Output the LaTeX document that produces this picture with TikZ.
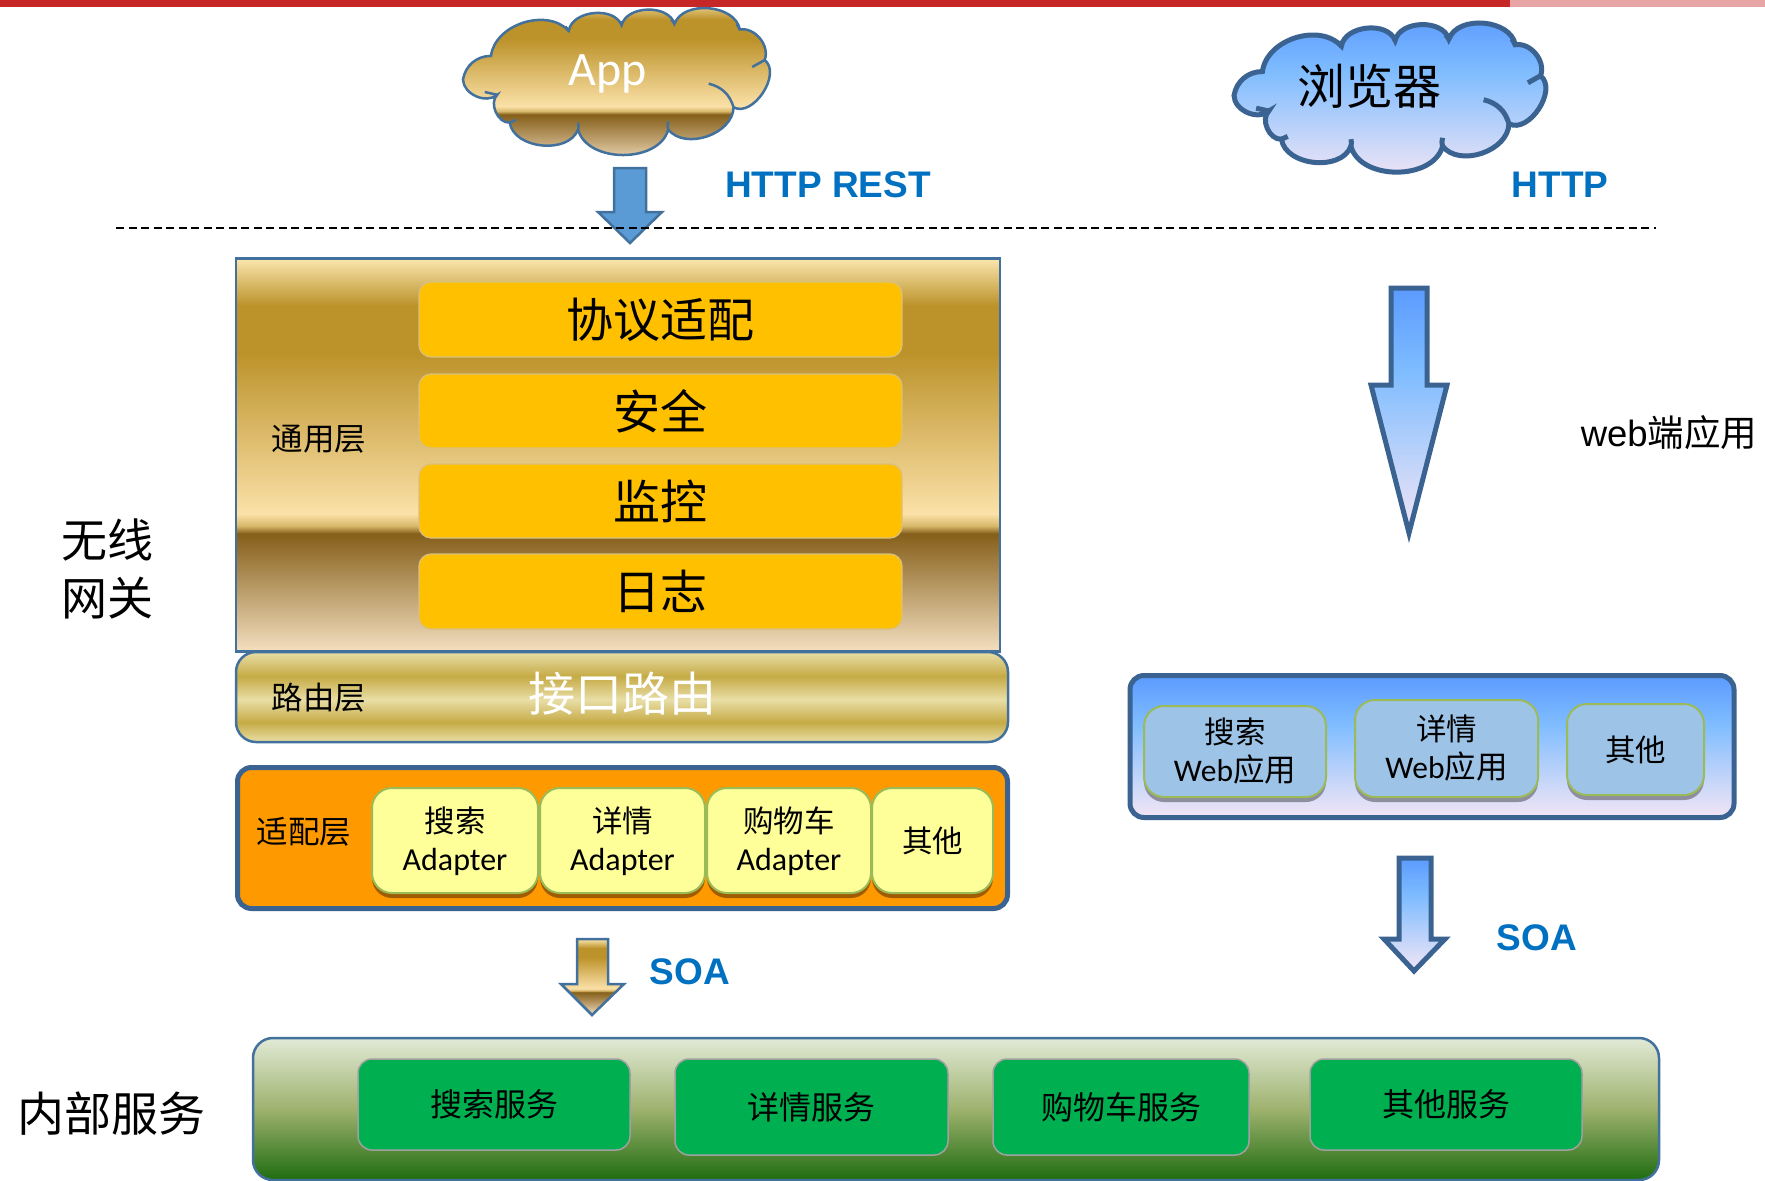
\documentclass[tikz,border=0pt]{standalone}
\usepackage{fontspec}
\setmainfont{Carlito}
\newfontfamily\cjk{Noto Sans CJK SC}
\newfontfamily\arial{Liberation Sans}
\usetikzlibrary{shadows}

\definecolor{thinedge}{HTML}{41719C}
\definecolor{thickedge}{HTML}{3B6391}
\definecolor{soablue}{HTML}{0070C0}
\definecolor{goldlight}{HTML}{FAE6AE}
\definecolor{goldmid}{HTML}{BC922A}
\definecolor{goldpale}{HTML}{FBE1A8}
\definecolor{goldblend}{HTML}{D8B86A}
\definecolor{golddark}{HTML}{855F1A}
\definecolor{goldtan}{HTML}{F4DFC0}
\definecolor{routelight}{HTML}{E8DEA6}
\definecolor{routedark}{HTML}{C6AB46}
\definecolor{skytop}{HTML}{5B9BFF}
\definecolor{skymid}{HTML}{80BDFF}
\definecolor{skylow}{HTML}{F3E6F5}
\definecolor{leaftop}{HTML}{E1EAD6}
\definecolor{leafmid}{HTML}{9EB26E}
\definecolor{leaflow}{HTML}{1F6C10}

\pgfdeclareverticalshading{goldmetal}{100bp}{
 color(0bp)=(goldtan);
 color(25bp)=(goldtan);
 color(40bp)=(golddark);
 color(41bp)=(goldblend);
 color(42.5bp)=(goldpale);
 color(63bp)=(goldmid);
 color(69bp)=(goldmid);
 color(75bp)=(goldlight);
 color(100bp)=(goldlight)}
\pgfdeclareverticalshading{routemetal}{100bp}{
 color(0bp)=(routelight);
 color(25bp)=(routelight);
 color(36bp)=(routedark);
 color(48.5bp)=(routelight);
 color(61.5bp)=(routedark);
 color(75bp)=(routelight);
 color(100bp)=(routelight)}
\pgfdeclareverticalshading{skyblue}{100bp}{
 color(0bp)=(skylow);
 color(25bp)=(skylow);
 color(57.5bp)=(skymid);
 color(75bp)=(skytop);
 color(100bp)=(skytop)}
\pgfdeclareverticalshading{leafgreen}{100bp}{
 color(0bp)=(leaflow);
 color(25bp)=(leaflow);
 color(50bp)=(leafmid);
 color(75bp)=(leaftop);
 color(100bp)=(leaftop)}

\tikzset{
 goldshape/.style={shade,shading=goldmetal,draw=thinedge,line width=2.5pt},
 blueshape/.style={shade,shading=skyblue,draw=thickedge,line width=5pt},
 orangebox/.style={draw=thickedge,line width=5pt,rounded corners=14pt,fill={rgb,255:red,255;green,153;blue,0}},
 stackbox/.style={draw={rgb,255:red,216;green,192;blue,128},line width=1.2pt,fill={rgb,255:red,255;green,192;blue,0},rounded corners=12pt,minimum width=483pt,inner sep=0pt,font=\cjk\fontsize{47}{56}\selectfont},
 adapterbox/.style={draw={rgb,255:red,155;green,187;blue,89},line width=2pt,fill={rgb,255:red,255;green,255;blue,153},rounded corners=20pt,minimum height=105pt,inner sep=0pt,align=center,font=\fontsize{32}{38}\selectfont,
  drop shadow={shadow xshift=0pt,shadow yshift=-5pt,opacity=1,fill={rgb,255:red,160;green,92;blue,0}}},
 webbox/.style={draw={rgb,255:red,155;green,187;blue,89},line width=2pt,fill={rgb,255:red,157;green,195;blue,230},rounded corners=20pt,inner sep=0pt,align=center,font=\fontsize{31.5}{38}\selectfont,
  drop shadow={shadow xshift=0pt,shadow yshift=-5pt,opacity=1,fill={rgb,255:red,142;green,142;blue,158}}},
 servicebox/.style={draw={rgb,255:red,160;green,160;blue,160},line width=1.5pt,fill={rgb,255:red,0;green,176;blue,80},rounded corners=14pt,inner sep=0pt,font=\cjk\fontsize{32}{38}\selectfont},
 sidelabel/.style={font=\cjk\fontsize{31.5}{38}\selectfont},
 biglabel/.style={font=\cjk\fontsize{46}{58}\selectfont,align=center},
 linklabel/.style={font=\arial\bfseries\fontsize{37}{44}\selectfont,text=soablue}
}

\def\cloudoutline{(.0,.50) to[bend left=40] (.09,.33) to[bend left=65] (.34,.15) to[bend left=75] (.51,.11) to[bend left=75] (.68,.10) to[bend left=75] (.89,.14) to[bend left=60] (.97,.36) to[bend left=85] (.87,.70) to[bend left=70] (.66,.86) to[bend left=75] (.37,.86) to[bend left=75] (.15,.81) to[bend left=70] (.11,.61) to[bend left=65] (.0,.50) -- cycle}
\def\cloudhooks{(.79,.53) to[bend left=30] (.87,.70) (.66,.86) to[bend left=15] (.66,.80) (.37,.86) to[bend right=15] (.37,.81) (.15,.81) -- (.17,.79) (.11,.61) -- (.07,.59) (.34,.15) -- (.33,.12) (.51,.11) -- (.51,.08) (.68,.10) -- (.67,.07) (.89,.14) -- (.88,.10) (.97,.36) -- (.93,.41)}

\begin{document}
\begin{tikzpicture}[x=1pt,y=-1pt]
\useasboundingbox (0,0) rectangle (1765,1181);

% top bar
\fill[fill={rgb,255:red,198;green,38;blue,38}] (0,0) rectangle (1510,7);
\fill[fill={rgb,255:red,232;green,165;blue,165}] (1510,0) rectangle (1765,7);

% clouds
\begin{scope}[shift={(463,10)},x=311pt,y=-139pt]
\shadedraw[goldshape] \cloudoutline;
\draw[draw=thinedge,line width=2.5pt] \cloudhooks;
\end{scope}
\begin{scope}[shift={(1234,25)},x=316pt,y=-141pt]
\shadedraw[blueshape] \cloudoutline;
\draw[draw=thickedge,line width=5pt] \cloudhooks;
\end{scope}
\node[font=\fontsize{48}{56}\selectfont,text=white] (applabel) at (608,74) {App};
\node[biglabel,font=\cjk\fontsize{48}{56}\selectfont] (browserlabel) at (1369,86) {浏览器};

% arrows
\draw[fill={rgb,255:red,91;green,155;blue,213},draw=thinedge,line width=2.5pt] (614,168) -- (646,168) -- (646,212) -- (662,212) -- (630,243) -- (598,212) -- (614,212) -- cycle;
\shadedraw[blueshape] (1391,288) -- (1427,288) -- (1427,385) -- (1447,385) -- (1409,533) -- (1371,385) -- (1391,385) -- cycle;
\shadedraw[blueshape] (1399,858) -- (1431,858) -- (1431,939) -- (1445,939) -- (1414,971) -- (1384,939) -- (1399,939) -- cycle;
\shadedraw[goldshape] (577,939) -- (608,939) -- (608,984) -- (624,984) -- (592,1015) -- (561,984) -- (577,984) -- cycle;

\draw[dashed,dash pattern=on 8pt off 4.5pt,line width=1.6pt] (116,228) -- (1656,228);

\node[linklabel] (restlabel) at (828,185) {HTTP REST};
\node[linklabel] (httplabel) at (1560,185) {HTTP};
\node[linklabel] (soaleft) at (690,972) {SOA};
\node[linklabel] (soaright) at (1537,938) {SOA};
\node[font=\arial\fontsize{36.5}{44}\selectfont] (weblabel) at (1669,433) {web{\cjk 端应用}};

% left column
\node[goldshape,minimum width=764pt,minimum height=393pt,inner sep=0pt] (common) at (618,455) {};
\node[goldshape,shading=routemetal,rounded corners=20pt,minimum width=772pt,minimum height=90pt,inner sep=0pt] (route) at (622,697) {};
\node[orangebox,minimum width=770pt,minimum height=141pt,inner sep=0pt] (adaptlayer) at (622.5,838) {};

\node[stackbox,minimum height=75pt] (protocol) at (660.5,319.5) {协议适配};
\node[stackbox,minimum height=74pt] (safety) at (660.5,411) {安全};
\node[stackbox,minimum height=74pt] (monitor) at (660.5,501) {监控};
\node[stackbox,minimum height=75pt] (logging) at (660.5,591.5) {日志};

\node[sidelabel] (commonlabel) at (319,439) {通用层};
\node[sidelabel] (routelabel) at (319,698) {路由层};
\node[font=\cjk\fontsize{47}{56}\selectfont,text=white] (routetext) at (622,694) {接口路由};
\node[sidelabel] (adaptlabel) at (304,832) {适配层};
\node[biglabel] (gateway) at (107,569) {无线\\网关};

\node[adapterbox,minimum width=166pt,text depth=4pt] (searchadapter) at (455,840.5) {{\cjk\fontsize{30.5}{38}\selectfont 搜索}\\Adapter};
\node[adapterbox,minimum width=165pt,text depth=4pt] (detailadapter) at (622.5,840.5) {{\cjk\fontsize{30.5}{38}\selectfont 详情}\\Adapter};
\node[adapterbox,minimum width=164pt,text depth=4pt] (cartadapter) at (789,840.5) {{\cjk\fontsize{30.5}{38}\selectfont 购物车}\\Adapter};
\node[adapterbox,minimum width=121pt,font=\cjk\fontsize{30.5}{38}\selectfont] (otheradapter) at (932.5,840.5) {其他};

% right column
\node[blueshape,rounded corners=14pt,minimum width=604pt,minimum height=142pt,inner sep=0pt] (weblayer) at (1432,746.5) {};
\node[webbox,minimum width=182pt,minimum height=91pt] (searchweb) at (1235,751.5) {{\cjk\fontsize{30.5}{38}\selectfont 搜索}\\Web{\cjk 应用}};
\node[webbox,minimum width=183pt,minimum height=97pt] (detailweb) at (1446.5,748.5) {{\cjk\fontsize{30.5}{38}\selectfont 详情}\\Web{\cjk 应用}};
\node[webbox,minimum width=137pt,minimum height=91pt,font=\cjk\fontsize{30.5}{38}\selectfont] (otherweb) at (1635.5,749.5) {其他};

% bottom
\node[goldshape,shading=leafgreen,rounded corners=20pt,minimum width=1406pt,minimum height=142pt,inner sep=0pt] (services) at (956,1109) {};
\node[servicebox,minimum width=272pt,minimum height=91pt] (searchservice) at (494,1104.5) {搜索服务};
\node[servicebox,minimum width=273pt,minimum height=96pt] (detailservice) at (811.5,1107) {详情服务};
\node[servicebox,minimum width=256pt,minimum height=96pt] (cartservice) at (1121,1107) {购物车服务};
\node[servicebox,minimum width=272pt,minimum height=91pt] (otherservice) at (1446,1104.5) {其他服务};
\node[font=\cjk\fontsize{47}{56}\selectfont] (innerlabel) at (111,1114) {内部服务};
\end{tikzpicture}
\end{document}
